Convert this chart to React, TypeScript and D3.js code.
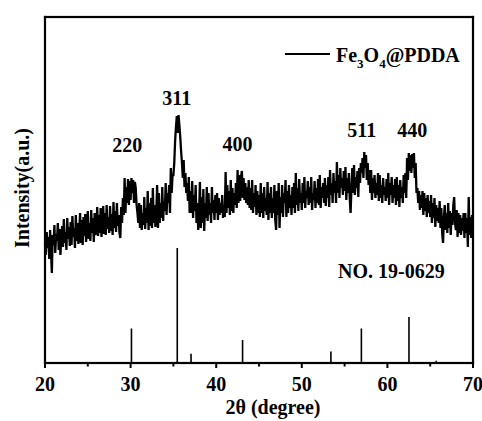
import React from "react";
import * as d3 from "d3";

// XRD scan: 2θ from 20 to 70 in 0.1° steps, intensity in arbitrary units
const scanStart = 20;
const scanStep = 0.1;
const intensity: number[] = [
  120,108,131,115,126,104,133,112,90,128,
  118,138,110,129,122,140,113,134,108,125,
  137,116,144,120,131,113,145,124,136,117,
  141,118,147,126,135,115,148,122,140,119,
  132,150,120,143,118,146,127,149,121,138,
  152,124,140,122,153,130,145,121,150,128,
  133,156,127,148,130,155,126,142,157,129,
  150,128,158,134,146,130,157,132,149,128,
  161,135,152,131,160,137,148,130,125,156,
  140,165,148,185,150,176,160,184,158,182,
  163,185,170,183,160,181,175,158,150,140,
  160,135,158,133,150,138,166,134,155,140,
  172,133,160,137,165,135,175,140,158,136,
  150,178,135,170,140,160,145,176,142,162,
  152,180,148,170,160,178,150,195,170,188,
  188,200,222,236,247,230,248,238,226,212,
  200,185,203,176,190,170,180,162,186,150,
  172,150,182,145,168,152,178,140,160,133,
  150,181,135,166,140,174,132,160,145,176,
  142,170,148,160,140,176,150,163,143,168,
  150,170,143,165,148,160,150,168,145,158,
  146,191,150,178,155,172,148,183,152,175,
  150,170,158,180,155,193,160,188,162,186,
  192,165,185,163,180,160,176,158,183,155,
  175,153,183,150,170,156,178,148,172,150,
  168,146,180,150,170,145,176,152,165,148,
  181,143,170,150,176,145,165,150,178,143,
  133,172,148,180,135,166,150,178,146,170,
  160,183,146,172,150,178,155,168,148,176,
  155,180,150,190,158,175,152,184,160,170,
  153,180,160,186,155,172,165,182,158,176,
  160,186,153,170,163,182,155,175,160,184,
  158,188,155,176,165,180,160,185,157,178,
  165,186,156,193,168,180,160,190,170,182,
  160,201,170,188,165,195,175,185,168,192,
  172,196,163,185,170,190,165,150,175,195,
  170,198,168,186,175,192,166,195,180,200,
  190,205,185,211,195,208,183,200,178,193,
  170,193,163,185,170,188,165,180,168,190,
  162,188,165,178,160,185,168,176,162,184,
  165,190,158,180,168,186,160,178,165,184,
  158,186,162,178,156,183,165,176,160,188,
  170,190,165,205,183,210,192,208,190,209,
  195,210,185,200,170,175,160,172,153,168,
  155,172,148,170,152,165,146,168,150,162,
  146,168,140,160,145,165,136,158,142,155,
  140,162,135,155,130,120,145,158,133,150,
  130,160,135,152,128,150,138,158,166,140,
  133,153,126,150,130,148,128,145,132,150,
  125,150,130,145,116,166,128,146,125,148,
  135,
];

// JCPDS card No. 19-0629 reference lines
const refPositions = [30.1, 35.45, 37.06, 43.08, 53.4, 56.96, 62.52, 65.7];
const refIntensities = [30, 100, 8, 20, 10, 30, 40, 2];

// Peak (hkl) annotations
const peakLabels = ["220", "311", "400", "511", "440"];
const peakLabelX = [29.6, 35.4, 42.5, 57.0, 62.9];
const peakLabelY = [211, 258, 212, 226, 226];

const xTicks = [20, 30, 40, 50, 60, 70];
const xMinorTicks = [25, 35, 45, 55, 65];

const W = 482;
const H = 421;
const PL = 45;
const PR = 473;
const PT = 17;
const PB = 363;
const FW = 2.2; // frame width
const FONT = "'Liberation Serif', 'Times New Roman', serif";

export default function App() {
  const x = d3.scaleLinear().domain([20, 70]).range([PL, PR]);
  const y = d3.scaleLinear().domain([0, 346]).range([PB, PT]);
  const yRef = d3.scaleLinear().domain([0, 100]).range([PB, PB - 115]);

  const points: [number, number][] = intensity.map((v, i) => [scanStart + i * scanStep, v]);
  const line = d3
    .line<[number, number]>()
    .x((d) => x(d[0]))
    .y((d) => y(d[1]));

  return (
    <svg
      width={W}
      height={H}
      viewBox={`0 0 ${W} ${H}`}
      style={{ position: "absolute", left: 0, top: 0, background: "#fff" }}
      fontFamily={FONT}
      fontWeight="bold"
    >
      <rect x={0} y={0} width={W} height={H} fill="#fff" />
      <path d={line(points) || ""} fill="none" stroke="#000" strokeWidth={2.3} strokeLinejoin="miter" strokeMiterlimit={2} />
      {refPositions.map((p, i) => (
        <line key={i} x1={x(p)} x2={x(p)} y1={yRef(0)} y2={yRef(refIntensities[i])} stroke="#000" strokeWidth={1.6} />
      ))}
      {/* frame as filled bars */}
      <rect x={PL - FW / 2} y={PT - FW / 2} width={PR - PL + FW} height={FW} fill="#000" />
      <rect x={PL - FW / 2} y={PB - FW / 2} width={PR - PL + FW} height={FW} fill="#000" />
      <rect x={PL - FW / 2} y={PT - FW / 2} width={FW} height={PB - PT + FW} fill="#000" />
      <rect x={PR - FW / 2} y={PT - FW / 2} width={FW} height={PB - PT + FW} fill="#000" />
      {xTicks.map((t) => (
        <g key={t}>
          <line x1={x(t)} x2={x(t)} y1={PB} y2={PB + 5} stroke="#000" strokeWidth={2} />
          <text x={x(t)} y={391} textAnchor="middle" fontSize={20}>{t}</text>
        </g>
      ))}
      {xMinorTicks.map((t) => (
        <line key={t} x1={x(t)} x2={x(t)} y1={PB} y2={PB + 3.5} stroke="#000" strokeWidth={2} />
      ))}
      <text x={273} y={414} textAnchor="middle" fontSize={20}>2θ (degree)</text>
      <text transform="translate(29,188) rotate(-90)" textAnchor="middle" fontSize={20}>Intensity(a.u.)</text>
      {peakLabels.map((l, i) => (
        <text key={l} x={x(peakLabelX[i])} y={y(peakLabelY[i])} textAnchor="middle" fontSize={20}>{l}</text>
      ))}
      <text x={338} y={278} fontSize={20}>NO. 19-0629</text>
      <line x1={285} x2={330} y1={54} y2={54} stroke="#000" strokeWidth={2} />
      <text x={336} y={62} fontSize={20}>
        Fe<tspan fontSize={13} dy={6}>3</tspan>
        <tspan dy={-6}>O</tspan>
        <tspan fontSize={13} dy={6}>4</tspan>
        <tspan dy={-6}>@PDDA</tspan>
      </text>
    </svg>
  );
}
